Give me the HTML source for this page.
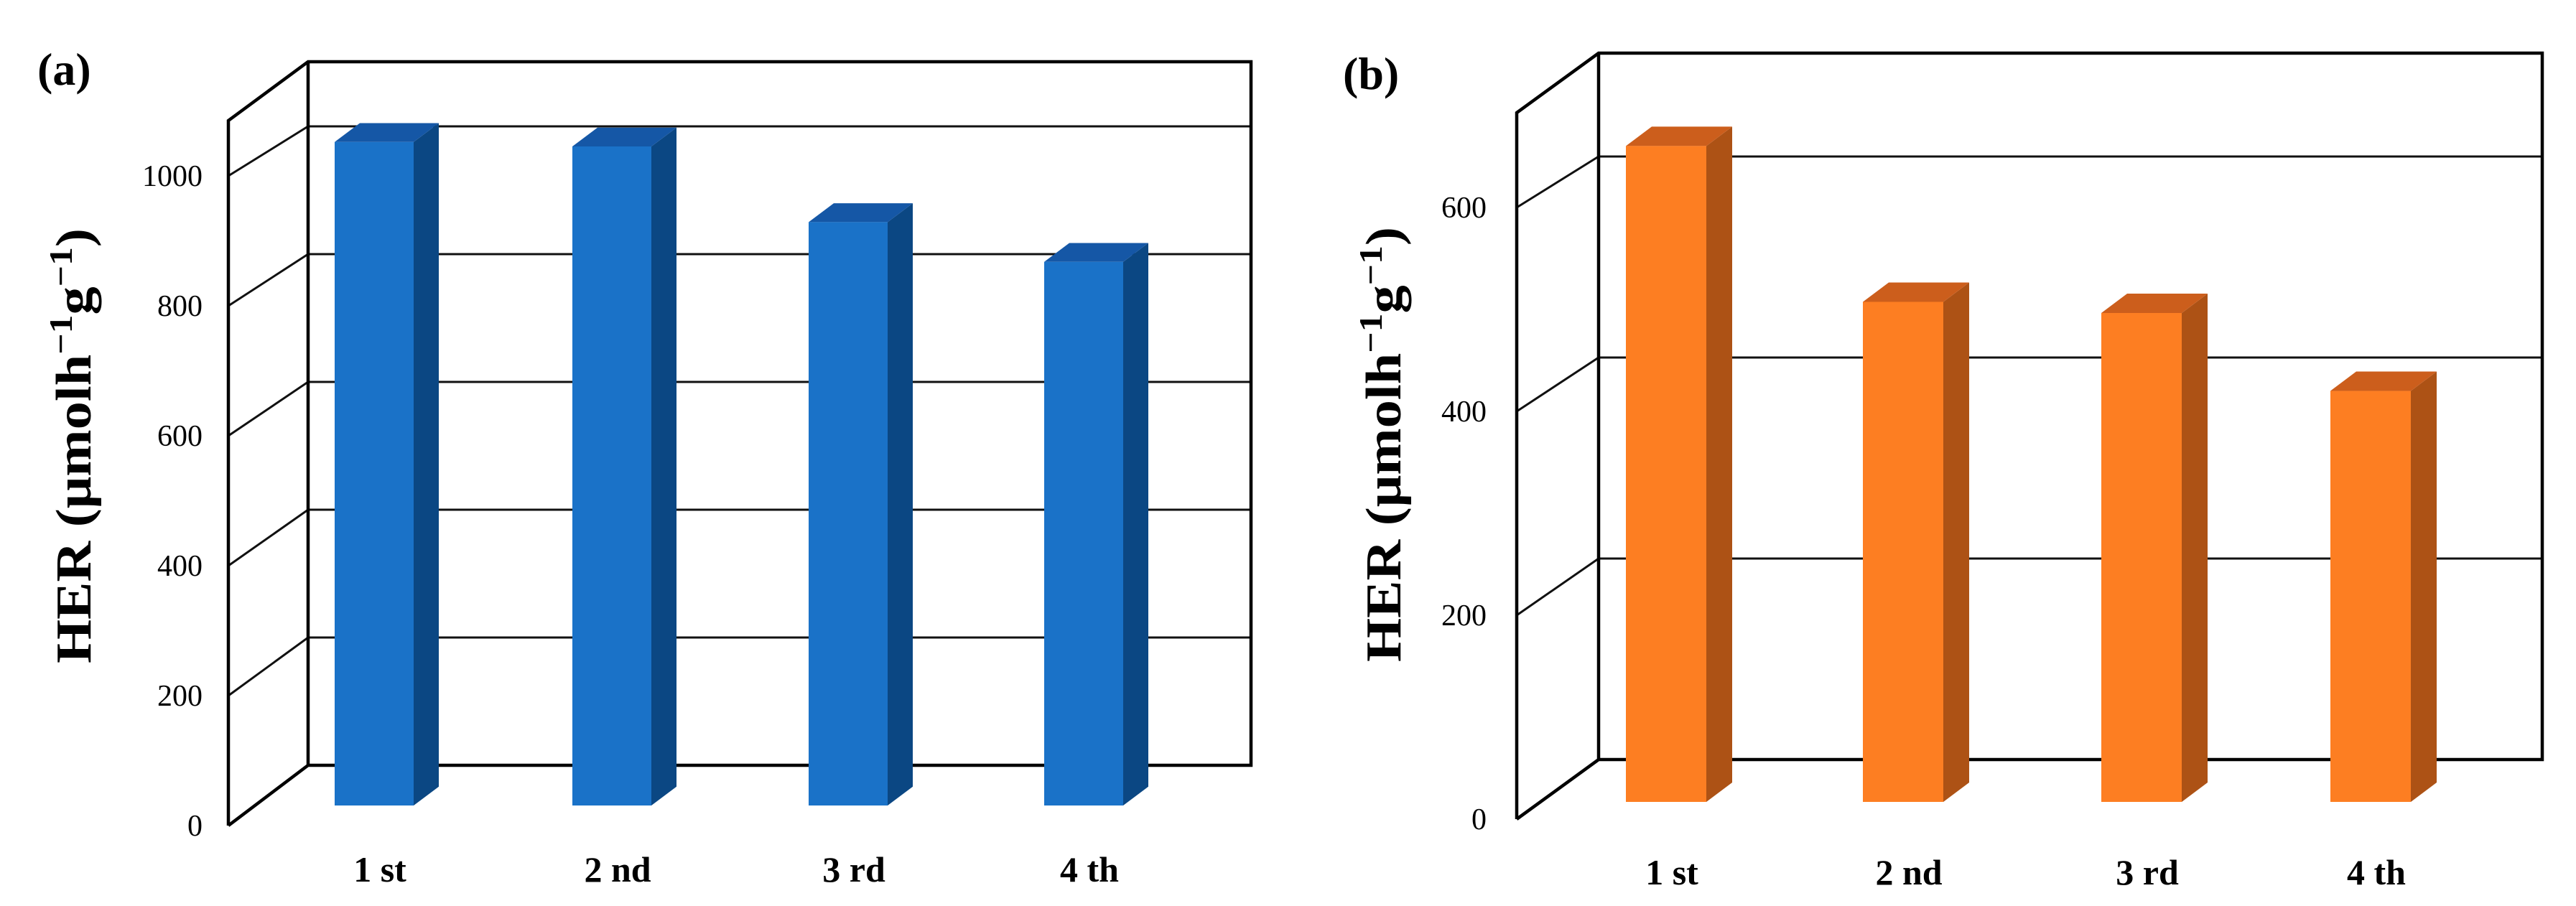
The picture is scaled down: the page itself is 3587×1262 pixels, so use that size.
<!DOCTYPE html>
<html><head><meta charset="utf-8"><style>
html,body{margin:0;padding:0;background:#fff;}
svg{display:block;font-family:"Liberation Serif",serif;}
</style></head><body>
<svg id="chart" width="3587" height="1262" viewBox="0 0 3587 1262" xmlns="http://www.w3.org/2000/svg"></svg>
<script>
const categories = ["1 st", "2 nd", "3 rd", "4 th"];
const valuesA = [1035, 1028, 910, 848];
const valuesB = [648, 494, 483, 406];
const ticksA = [0, 200, 400, 600, 800, 1000];
const ticksB = [0, 200, 400, 600];
const NS = "http://www.w3.org/2000/svg";
const svg = document.getElementById("chart");
function mk(tag, attrs, parent) {
  const e = document.createElementNS(NS, tag);
  for (const k in attrs) e.setAttribute(k, attrs[k]);
  (parent || svg).appendChild(e);
  return e;
}
function panel(cfg, values, ticks, letter, name) {
  const g = mk("g", {});
  
  
  const dx = cfg.backL - cfg.frontX, dy = cfg.backTop - cfg.frontTop;
  const yBack = v => cfg.back0 - v * cfg.kBack;
  const yFront = v => cfg.front0 - v * cfg.kFront;
  // grid lines on back wall + side wall
  ticks.forEach(t => {
    if (t === 0) return;
    const l = mk("path", {d: `M${cfg.frontX},${yFront(t)} L${cfg.backL},${yBack(t)} L${cfg.backR},${yBack(t)}`, fill: "none", stroke: "#111", "stroke-width": 3}, g);
    
    
  });
  // walls
  const wall = mk("path", {d: `M${cfg.frontX},${cfg.front0} L${cfg.frontX},${cfg.frontTop} L${cfg.backL},${cfg.backTop} L${cfg.backR},${cfg.backTop} L${cfg.backR},${cfg.back0} L${cfg.backL},${cfg.back0} L${cfg.frontX},${cfg.front0} M${cfg.backL},${cfg.backTop} L${cfg.backL},${cfg.back0}`, fill: "none", stroke: "#000", "stroke-width": 4.5, "stroke-linejoin": "miter"}, g);
  
  
  // tick labels
  ticks.forEach(t => {
    const tx = mk("text", {x: cfg.tickRight, y: yFront(t) + 14, "text-anchor": "end", "font-size": 42, fill: "#000"}, g);
    tx.textContent = t;
    
    
  });
  // bars
  values.forEach((v, i) => {
    const x = cfg.barX[i], w = cfg.barW, d = cfg.barD;
    const yb = cfg.barBottom, yt = cfg.barBottom - v * cfg.kBar;
    const bg = mk("g", {}, g);
    
    
    mk("polygon", {points: `${x+w},${yb} ${x+w+d},${yb-d*0.75} ${x+w+d},${yt-d*0.75} ${x+w},${yt}`, fill: cfg.side}, bg);
    mk("polygon", {points: `${x},${yt} ${x+d},${yt-d*0.75} ${x+w+d},${yt-d*0.75} ${x+w},${yt}`, fill: cfg.top}, bg);
    mk("rect", {x: x, y: yt, width: w, height: yb - yt, fill: cfg.front}, bg);
    const lab = mk("text", {x: x + w / 2 + 8, y: cfg.labelY, "text-anchor": "middle", "font-size": 50, "font-weight": "bold", fill: "#000"}, g);
    lab.textContent = categories[i];
    
    
  });
  const yt = mk("text", {transform: `translate(${cfg.titleX},${cfg.titleY}) rotate(-90)`, "text-anchor": "middle", "font-size": 70, "font-weight": "bold", fill: "#000", textLength: 606, lengthAdjust: "spacingAndGlyphs"}, g);
  yt.innerHTML = 'HER (μmolh<tspan dy="-26" font-size="46">−1</tspan><tspan dy="26">g</tspan><tspan dy="-26" font-size="46">−1</tspan><tspan dy="26">)</tspan>';
  
  
  const pl = mk("text", {x: cfg.letterX, y: cfg.letterY, "font-size": 64, "font-weight": "bold", fill: "#000"}, g);
  pl.textContent = letter;
  
  
}
panel({frontX: 318, frontTop: 168, front0: 1150, kFront: 0.905, backL: 429, backR: 1742, backTop: 86, back0: 1066, kBack: 0.89,
  tickRight: 282, barX: [466, 797, 1126, 1454], barW: 110, barD: 35, barBottom: 1122, kBar: 0.893, labelY: 1228,
  front: "#1a72c8", side: "#0b4783", top: "#1557a6", titleX: 126, titleY: 621, letterX: 52, letterY: 118}, valuesA, ticksA, "(a)", "panel-a-chart");
panel({frontX: 2112, frontTop: 157, front0: 1141, kFront: 1.42, backL: 2226, backR: 3540, backTop: 74, back0: 1058, kBack: 1.4,
  tickRight: 2070, barX: [2264, 2594, 2926, 3245], barW: 112, barD: 36, barBottom: 1117, kBar: 1.41, labelY: 1232,
  front: "#fd7e22", side: "#ad5215", top: "#cc5e1c", titleX: 1950, titleY: 619, letterX: 1870, letterY: 124}, valuesB, ticksB, "(b)", "panel-b-chart");
</script>
</body></html>
